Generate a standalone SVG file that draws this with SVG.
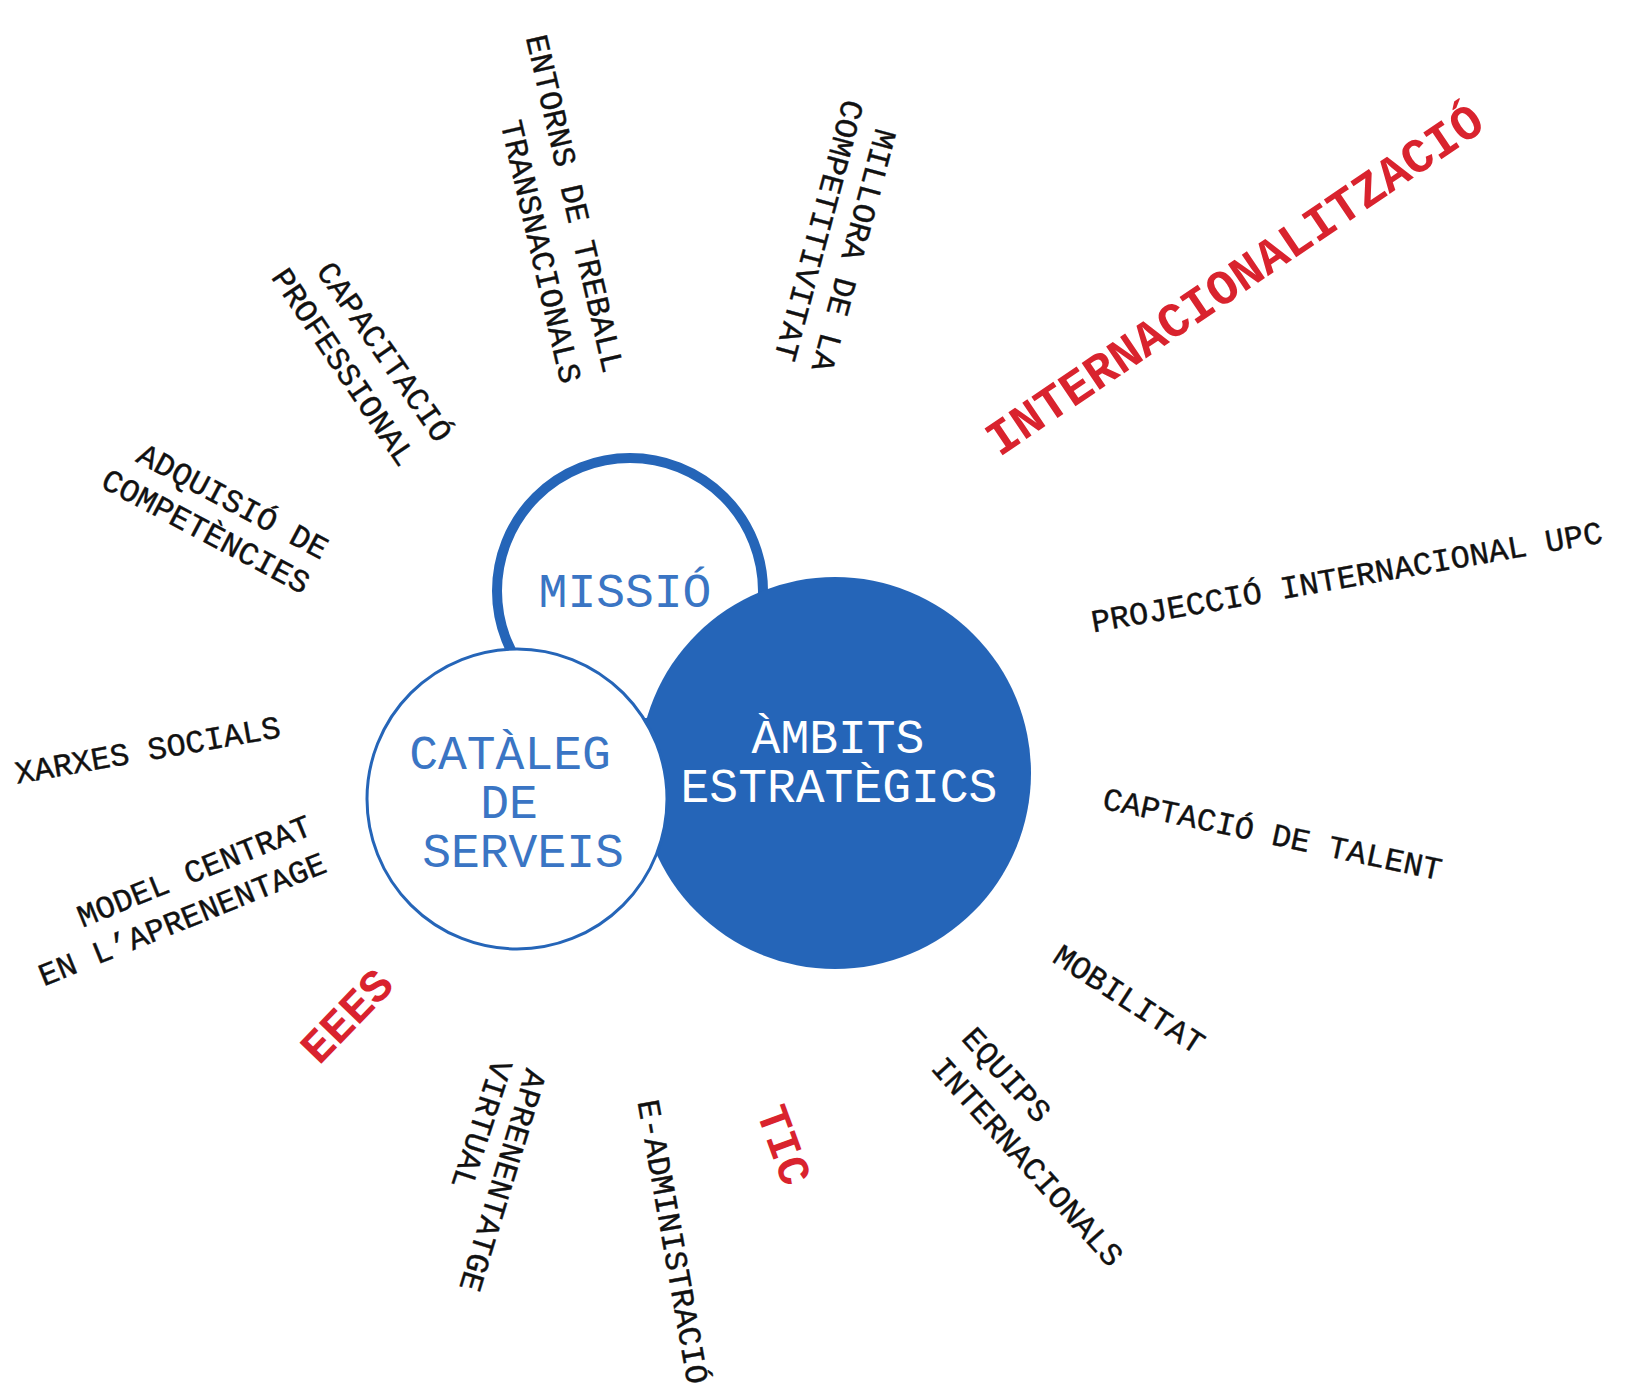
<svg xmlns="http://www.w3.org/2000/svg" width="1633" height="1397" viewBox="0 0 1633 1397">
<style>
.lbl{font-family:"Liberation Mono","Courier New",monospace;font-size:32px;fill:#111;stroke:#111;stroke-width:0.4;text-anchor:middle;dominant-baseline:central}
.red{font-family:"Liberation Mono","Courier New",monospace;font-weight:bold;fill:#d9232e;text-anchor:middle;dominant-baseline:central}
.ctr{font-family:"Liberation Mono","Courier New",monospace;font-size:48px;text-anchor:middle}
.blue{fill:#3a75c4}
.white{fill:#ffffff}
</style>
<rect width="1633" height="1397" fill="#ffffff"/>
<g id="connectors"/>
<g id="node-missio">
<circle cx="630" cy="591" r="133" fill="#ffffff" stroke="#2565b8" stroke-width="10"/>
<text class="ctr blue" x="625" y="607">MISSIÓ</text>
</g>
<g id="node-ambits">
<circle cx="835" cy="773" r="196" fill="#2565b8"/>
<text class="ctr white" x="838" y="753">ÀMBITS</text>
<text class="ctr white" x="839" y="802">ESTRATÈGICS</text>
</g>
<g id="node-cataleg">
<circle cx="517" cy="799" r="150" fill="#ffffff" stroke="#2565b8" stroke-width="3"/>
<text class="ctr blue" x="510" y="769">CATÀLEG</text>
<text class="ctr blue" x="509" y="818">DE</text>
<text class="ctr blue" x="523" y="867">SERVEIS</text>
</g>
<g id="label-entorns">
<text class="lbl" transform="translate(573,204) rotate(77)">ENTORNS DE TREBALL</text>
<text class="lbl" transform="translate(539,252) rotate(77)">TRANSNACIONALS</text>
</g>
<g id="label-millora">
<text class="lbl" transform="translate(852,250) rotate(105)">MILLORA DE LA</text>
<text class="lbl" transform="translate(817,230) rotate(105)">COMPETITIVITAT</text>
</g>
<g id="label-internacionalitzacio">
<text class="red" font-size="49" transform="translate(1236,282) rotate(-34)">INTERNACIONALITZACIÓ</text>
</g>
<g id="label-capacitacio">
<text class="lbl" transform="translate(383,353) rotate(55)">CAPACITACIÓ</text>
<text class="lbl" transform="translate(342,368) rotate(56)">PROFESSIONAL</text>
</g>
<g id="label-adquisicio">
<text class="lbl" transform="translate(232,503) rotate(28)">ADQUISIÓ DE</text>
<text class="lbl" transform="translate(205,533) rotate(28)">COMPETÈNCIES</text>
</g>
<g id="label-xarxes">
<text class="lbl" transform="translate(148,752) rotate(-10)">XARXES SOCIALS</text>
</g>
<g id="label-model">
<text class="lbl" transform="translate(195,873) rotate(-22)">MODEL CENTRAT</text>
<text class="lbl" transform="translate(183,921) rotate(-22)">EN L’APRENENTAGE</text>
</g>
<g id="label-eees">
<text class="red" font-size="46" transform="translate(349,1018) rotate(-46)">EEES</text>
</g>
<g id="label-aprenentatge">
<text class="lbl" transform="translate(501,1180) rotate(107)">APRENENTATGE</text>
<text class="lbl" transform="translate(480,1124) rotate(108)">VIRTUAL</text>
</g>
<g id="label-eadministracio">
<text class="lbl" transform="translate(671,1242) rotate(80)">E-ADMINISTRACIÓ</text>
</g>
<g id="label-tic">
<text class="red" font-size="45" transform="translate(781,1146) rotate(70)">TIC</text>
</g>
<g id="label-equips">
<text class="lbl" transform="translate(1005,1076) rotate(48)">EQUIPS</text>
<text class="lbl" transform="translate(1026,1163) rotate(48)">INTERNACIONALS</text>
</g>
<g id="label-mobilitat">
<text class="lbl" transform="translate(1128,1001) rotate(33)">MOBILITAT</text>
</g>
<g id="label-captacio">
<text class="lbl" transform="translate(1272,836) rotate(12)">CAPTACIÓ DE TALENT</text>
</g>
<g id="label-projeccio">
<text class="lbl" transform="translate(1347,579) rotate(-10)">PROJECCIÓ INTERNACIONAL UPC</text>
</g>
</svg>
